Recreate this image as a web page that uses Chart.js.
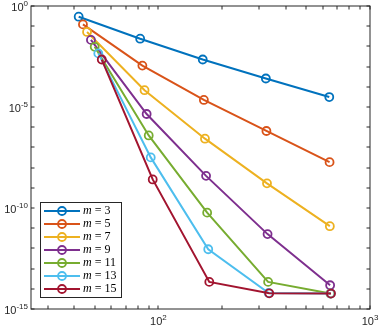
<!DOCTYPE html>
<html>
<head>
<meta charset="utf-8">
<script src="https://cdn.jsdelivr.net/npm/chart.js@4.4.0/dist/chart.umd.min.js"></script>
<style>
body{margin:0;background:#fff;}
canvas{display:block;}
</style>
</head>
<body>
<canvas id="errChart" width="379" height="327"></canvas>
<script>

/* DATA */

const mValues = [3,5,7,9,11,13,15];
const colors = ["#0072BD","#D95319","#EDB120","#7E2F8E","#77AC30","#4DBEEE","#A2142F"];

const nValues = [
[42,82,162,322,642],
[44,84,164,324,644],
[46,86,166,326,646],
[48,88,168,328,648],
[50,90,170,330,650],
[52,92,172,332,652],
[54,94,174,334,654]
];

const errValues = [
[2.95e-1,2.4e-2,2.24e-3,2.57e-4,3.1e-5],
[1.23e-1,1.12e-3,2.24e-5,6.5e-7,1.86e-8],
[5.2e-2,6.8e-5,2.7e-7,1.66e-9,1.26e-11],
[2.1e-2,4.5e-6,3.9e-9,5.1e-12,1.5e-14],
[9.5e-3,3.9e-7,5.9e-11,2.2e-14,5.8e-15],
[4.5e-3,3.2e-8,9.1e-13,6.2e-15,5.8e-15],
[2.24e-3,2.6e-9,2.2e-14,6e-15,5.8e-15]
];

const xMinorTicks = [30,40,50,60,70,80,90,200,300,400,500,600,700,800,900];
const xMajorTicks = [100,1000];
const yTicks = [1,1e-1,1e-2,1e-3,1e-4,1e-5,1e-6,1e-7,1e-8,1e-9,1e-10,1e-11,1e-12,1e-13,1e-14,1e-15];
const yLabelTicks = [1,1e-5,1e-10,1e-15];


/* AXES + LEGEND PLUGIN */

function pow10(ctx, exp, x, y, align){
ctx.font = "11px 'Liberation Sans', Arial, sans-serif";
const w1 = ctx.measureText("10").width;
ctx.font = "8px 'Liberation Sans', Arial, sans-serif";
const w2 = ctx.measureText(exp).width;
let start = x;
if(align==="right") start = x - w1 - w2;
if(align==="center") start = x - (w1 + w2)/2;
ctx.textAlign = "left";
ctx.textBaseline = "alphabetic";
ctx.font = "11px 'Liberation Sans', Arial, sans-serif";
ctx.fillText("10", start, y);
ctx.font = "8px 'Liberation Sans', Arial, sans-serif";
ctx.fillText(exp, start + w1, y - 5);
}

const frame = {
id:"frame",
afterDatasetsDraw(chart){
const {ctx, chartArea:a, scales:{x, y}} = chart;
ctx.save();
ctx.strokeStyle = "#262626";
ctx.lineWidth = 1;
ctx.strokeRect(a.left, a.top, a.right - a.left, a.bottom - a.top);

ctx.beginPath();
yTicks.forEach(v=>{
const py = Math.round(y.getPixelForValue(v));
ctx.moveTo(a.left, py); ctx.lineTo(a.left + 3.5, py);
ctx.moveTo(a.right, py); ctx.lineTo(a.right - 3.5, py);
});
xMinorTicks.concat(xMajorTicks).forEach(v=>{
const px = Math.round(x.getPixelForValue(v));
ctx.moveTo(px, a.bottom); ctx.lineTo(px, a.bottom - 3.5);
ctx.moveTo(px, a.top); ctx.lineTo(px, a.top + 3.5);
});
ctx.stroke();

ctx.fillStyle = "#262626";
yLabelTicks.forEach(v=>{
const py = y.getPixelForValue(v);
pow10(ctx, String(Math.round(Math.log10(v))), 28, py + 5, "right");
});
xMajorTicks.forEach(v=>{
const px = x.getPixelForValue(v);
pow10(ctx, String(Math.round(Math.log10(v))), px, 325, "center");
});

/* legend */
const lx = 40.5, ly = 202.5, lw = 81, lh = 95;
ctx.fillStyle = "#fff";
ctx.fillRect(lx, ly, lw, lh);
ctx.strokeStyle = "#262626";
ctx.lineWidth = 1;
ctx.strokeRect(lx, ly, lw, lh);
mValues.forEach((m, i)=>{
const ry = 211 + i*13;
ctx.strokeStyle = colors[i];
ctx.lineWidth = 2;
ctx.beginPath();
ctx.moveTo(44, ry); ctx.lineTo(80, ry);
ctx.stroke();
ctx.lineWidth = 1.8;
ctx.beginPath();
ctx.arc(62, ry, 4, 0, Math.PI*2);
ctx.stroke();
ctx.fillStyle = "#000";
ctx.textAlign = "left";
ctx.textBaseline = "middle";
ctx.font = "italic 12px 'Liberation Serif', serif";
ctx.fillText("m", 83, ry);
const wm = ctx.measureText("m").width;
ctx.font = "12px 'Liberation Serif', serif";
ctx.fillText(" = " + m, 83 + wm, ry);
});
ctx.restore();
}
};


/* CHART */

new Chart(
document.getElementById("errChart"),
{
type:"scatter",
data:{
datasets: mValues.map((m, i)=>({
label:"m = " + m,
data: nValues[i].map((n, j)=>({x:n, y:errValues[i][j]})),
showLine:true,
borderColor:colors[i],
borderWidth:2,
pointRadius:4,
pointBorderWidth:1.8,
pointBackgroundColor:"rgba(0,0,0,0)",
pointBorderColor:colors[i],
order: mValues.length - i
}))
},
options:{
responsive:false,
animation:false,
layout:{padding:{left:31, right:9, top:6, bottom:18}},
scales:{
x:{type:"logarithmic", min:25, max:1000, display:false},
y:{type:"logarithmic", min:1e-15, max:1, display:false}
},
plugins:{legend:{display:false}, tooltip:{enabled:false}}
},
plugins:[frame]
}
);

</script>
</body>
</html>
